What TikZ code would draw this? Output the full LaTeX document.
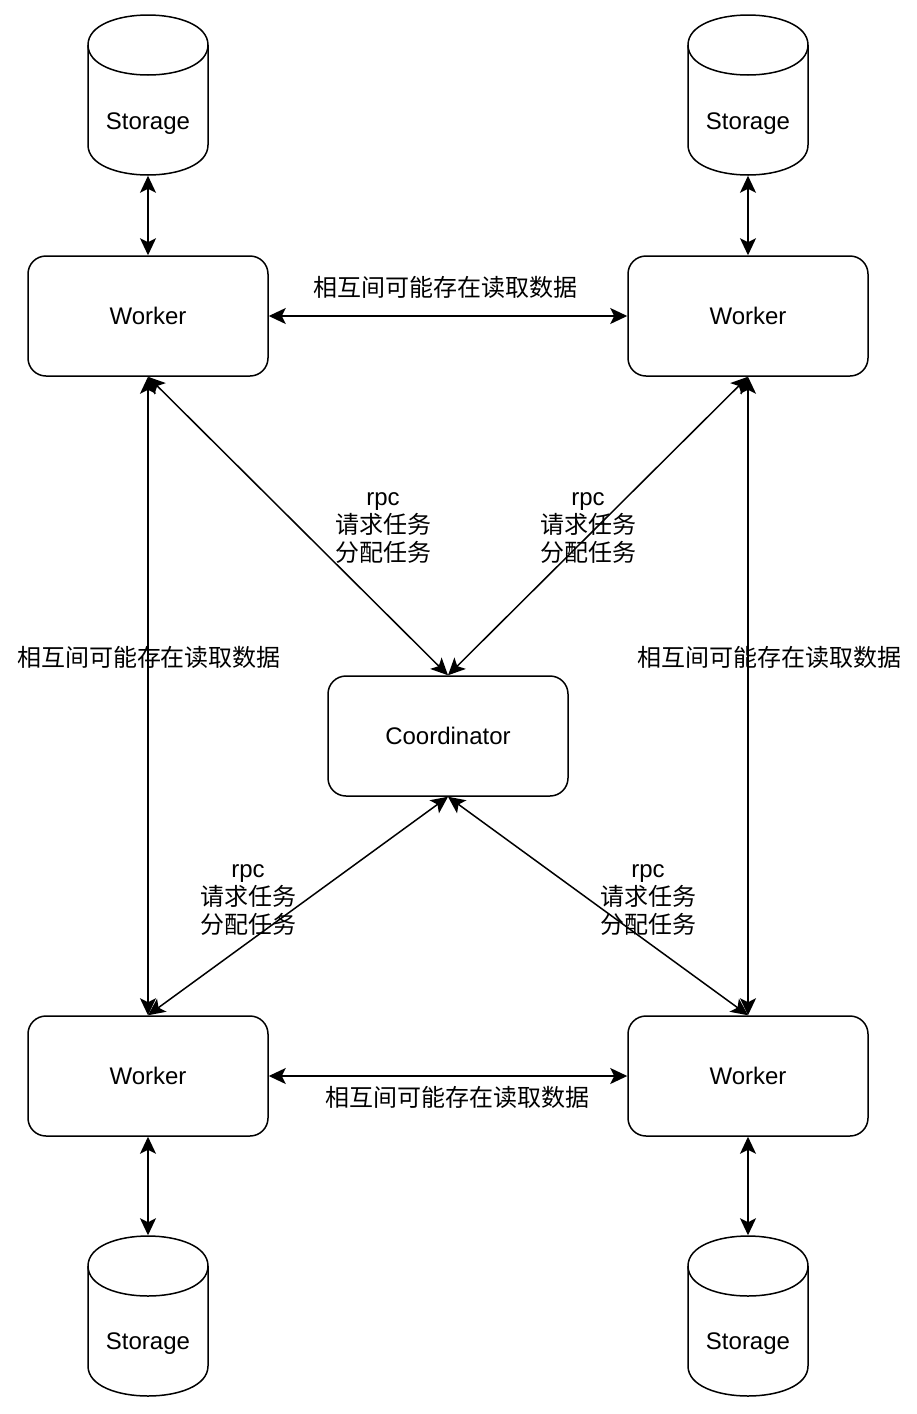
\documentclass[tikz,border=0pt]{standalone}
\usepackage{fontspec}
\setmainfont{Liberation Sans}
\newfontfamily\cjk{Noto Sans CJK SC}
\usetikzlibrary{arrows.meta}
\newcommand{\mycyl}[2]{%
  \draw ({#1},{#2+30}) .. controls ({#1},{#2-10}) and ({#1+120},{#2-10}) .. ({#1+120},{#2+30})
    -- ({#1+120},{#2+130}) .. controls ({#1+120},{#2+170}) and ({#1},{#2+170}) .. ({#1},{#2+130}) -- cycle;
  \draw ({#1},{#2+30}) .. controls ({#1},{#2+70}) and ({#1+120},{#2+70}) .. ({#1+120},{#2+30});
}
\begin{document}
\begin{tikzpicture}[x=1pt,y=-1pt, line width=1.5pt,
  font=\fontsize{24}{28}\selectfont,
  box/.style={draw, rounded corners=18pt, minimum width=240pt, minimum height=120pt, inner sep=0pt},
  stor/.style={minimum width=120pt, minimum height=160pt, inner sep=0pt},
  link/.style={{Stealth[length=17pt,width=16pt,inset=4pt]}-{Stealth[length=17pt,width=16pt,inset=4pt]}},
  lbl/.style={align=center, inner sep=0pt}]
\useasboundingbox[fill=white] (0,0) rectangle (916,1414);

% storages
\mycyl{88}{15}
\mycyl{688}{15}
\mycyl{88}{1236}
\mycyl{688}{1236}
\node[stor] (s1) at (148,95) {};
\node[stor] (s2) at (748,95) {};
\node[stor] (s3) at (148,1316) {};
\node[stor] (s4) at (748,1316) {};
\node (t1) at ([yshift=-28.5pt]s1.center) {Storage};
\node (t2) at ([yshift=-28.5pt]s2.center) {Storage};
\node (t3) at ([yshift=-28pt]s3.center) {Storage};
\node (t4) at ([yshift=-28pt]s4.center) {Storage};

% boxes
\node[box] (w1) at (148,316) {Worker};
\node[box] (w2) at (748,316) {Worker};
\node[box] (co) at (448,736) {Coordinator};
\node[box] (w3) at (148,1076) {Worker};
\node[box] (w4) at (748,1076) {Worker};

% connectors
\draw[link] (s1.south) -- (w1.north);
\draw[link] (s2.south) -- (w2.north);
\draw[link] (w3.south) -- (s3.north);
\draw[link] (w4.south) -- (s4.north);
\draw[link] (w1.east) -- (w2.west);
\draw[link] (w3.east) -- (w4.west);
\draw[link] (w1.south) -- (w3.north);
\draw[link] (w2.south) -- (w4.north);
\draw[link] (w1.south) -- (co.north);
\draw[link] (w2.south) -- (co.north);
\draw[link] (co.south) -- (w3.north);
\draw[link] (co.south) -- (w4.north);

% labels
\node[lbl] (l1) at (445,287) {\cjk 相互间可能存在读取数据};
\node[lbl] (l2) at (457,1097) {\cjk 相互间可能存在读取数据};
\node[lbl] (l3) at (149,657) {\cjk 相互间可能存在读取数据};
\node[lbl] (l4) at (769,657) {\cjk 相互间可能存在读取数据};
\node[lbl] (r1) at (383,528.5) {rpc\\{\cjk 请求任务}\\{\cjk 分配任务}};
\node[lbl] (r2) at (588,528.5) {rpc\\{\cjk 请求任务}\\{\cjk 分配任务}};
\node[lbl] (r3) at (248,900.5) {rpc\\{\cjk 请求任务}\\{\cjk 分配任务}};
\node[lbl] (r4) at (648,900.5) {rpc\\{\cjk 请求任务}\\{\cjk 分配任务}};
\end{tikzpicture}
\end{document}
